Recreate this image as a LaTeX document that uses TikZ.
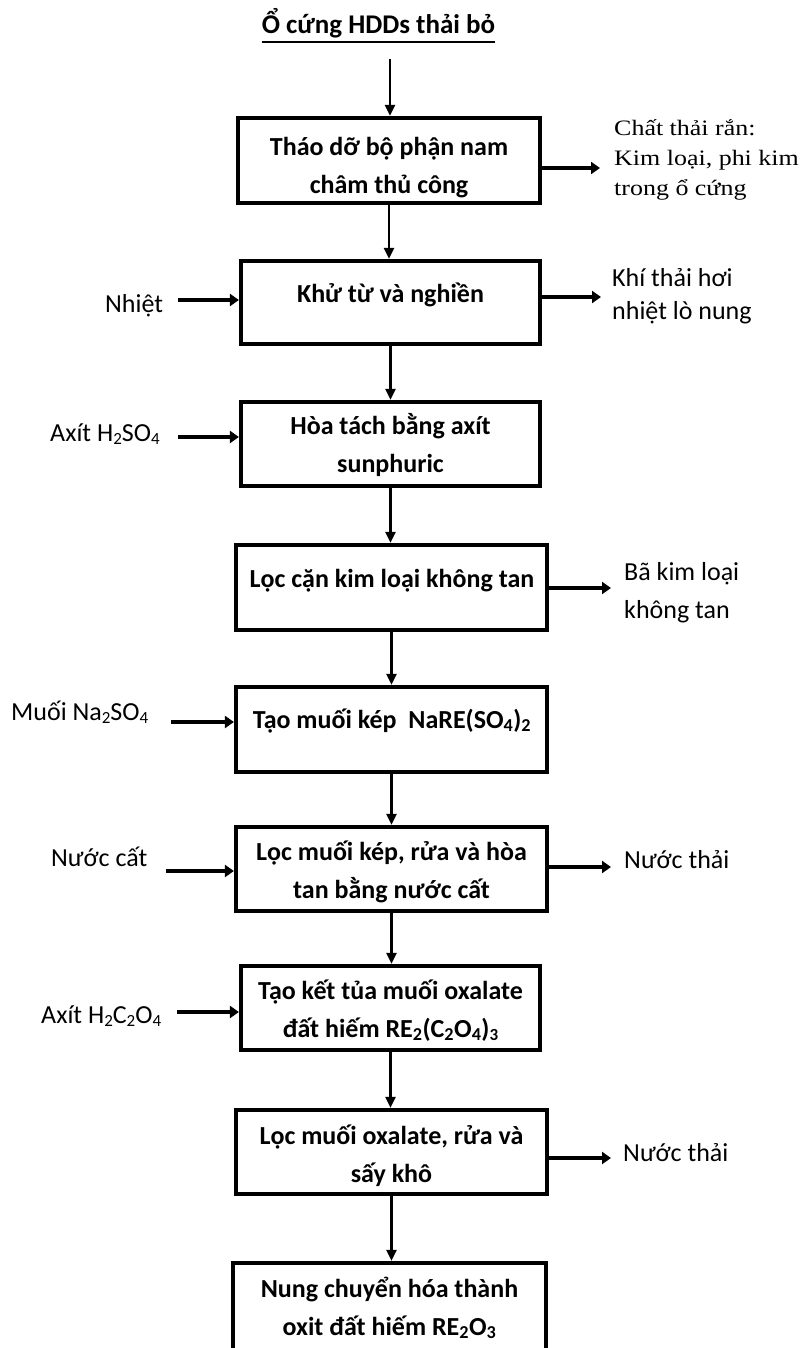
\documentclass[tikz,border=0pt]{standalone}
\usepackage{fontspec}
\setmainfont{Carlito}
\newfontfamily\serifstretch[FakeStretch=1.18]{Liberation Serif}
\usetikzlibrary{arrows.meta}
\newcommand\lsub[1]{\raisebox{-0.12em}{\fontsize{17}{17}\selectfont #1}}
\begin{document}
\begin{tikzpicture}[x=1pt,y=-1pt,
  stepbox/.style={draw, line width=4.2pt, inner sep=0pt},
  boxtext/.style={font=\bfseries\fontsize{26}{38}\selectfont, align=center, inner sep=0pt, anchor=base},
  sidetext/.style={font=\fontsize{26}{34}\selectfont, align=left, inner sep=0pt, anchor=base west},
  flow/.style={line width=2.2pt, -{Triangle[length=11pt,width=10pt]}},
  side/.style={line width=3.2pt, -{Triangle[length=9pt,width=12pt]}}
]
\clip (0,0) rectangle (807,1348);
\fill[white] (0,0) rectangle (807,1348);

% title
\node[font=\bfseries\fontsize{27}{32}\selectfont, inner sep=0pt, anchor=base] (title) at (378.5,34) {Ổ cứng HDDs thải bỏ};
\draw[line width=1.6pt] ([yshift=-8pt]title.base west) -- ([yshift=-8pt]title.base east);

% boxes
\node[stepbox, minimum width=302pt, minimum height=85pt] (b1) at (389,160.5) {};
\node[stepbox, minimum width=299pt, minimum height=83pt] (b2) at (390.5,302.5) {};
\node[stepbox, minimum width=299pt, minimum height=84pt] (b3) at (390.5,444) {};
\node[stepbox, minimum width=311pt, minimum height=85pt] (b4) at (391.5,587.5) {};
\node[stepbox, minimum width=311pt, minimum height=85pt] (b5) at (391.5,729.5) {};
\node[stepbox, minimum width=311pt, minimum height=84pt] (b6) at (391.5,869) {};
\node[stepbox, minimum width=299pt, minimum height=84pt] (b7) at (390.5,1008) {};
\node[stepbox, minimum width=311pt, minimum height=84pt] (b8) at (391.5,1152) {};
\node[stepbox, minimum width=313pt, minimum height=90pt] (b9) at (389.5,1308) {};

% box texts (base anchor = baseline of the last line)
\node[boxtext] (t1) at (389,194) {Tháo dỡ bộ phận nam\\châm thủ công};
\node[boxtext] (t2) at (390.5,302) {Khử từ và nghiền};
\node[boxtext] (t3) at (390.5,472) {Hòa tách bằng axít\\sunphuric};
\node[boxtext] (t4) at (392,587) {Lọc cặn kim loại không tan};
\node[boxtext] (t5) at (392,728) {Tạo muối kép\ \ NaRE(SO\textsubscript{4})\textsubscript{2}};
\node[boxtext] (t6) at (391.5,898) {Lọc muối kép, rửa và hòa\\tan bằng nước cất};
\node[boxtext] (t7) at (390.5,1037) {Tạo kết tủa muối oxalate\\đất hiếm RE\textsubscript{2}(C\textsubscript{2}O\textsubscript{4})\lsub{3}};
\node[boxtext] (t8) at (391.5,1182) {Lọc muối oxalate, rửa và\\sấy khô};
\node[boxtext] (t9) at (389.5,1335) {Nung chuyển hóa thành\\oxit đất hiếm RE\textsubscript{2}O\textsubscript{3}};

% left inputs
\node[sidetext] (l2) at (105,312) {Nhiệt};
\node[sidetext] (l3) at (50,441) {Axít H\lsub{2}SO\lsub{4}};
\node[sidetext] (l5) at (11,720) {Muối Na\lsub{2}SO\lsub{4}};
\node[sidetext] (l6) at (51,866) {Nước cất};
\node[sidetext] (l7) at (41,1023) {Axít H\lsub{2}C\lsub{2}O\lsub{4}};

\coordinate (i2) at (178,300);
\coordinate (i3) at (178,437);
\coordinate (i5) at (171,722);
\coordinate (i6) at (166,871);
\coordinate (i7) at (177,1012);
\draw[side] (i2) -- (i2 -| b2.west);
\draw[side] (i3) -- (i3 -| b3.west);
\draw[side] (i5) -- (i5 -| b5.west);
\draw[side] (i6) -- (i6 -| b6.west);
\draw[side] (i7) -- (i7 -| b7.west);

% right outputs
\node[sidetext, font=\serifstretch\fontsize{22}{30}\selectfont] (r1) at (614,196) {Chất thải rắn:\\Kim loại, phi kim\\trong ổ cứng};
\node[sidetext, font=\fontsize{26}{33}\selectfont] (r2) at (612,319) {Khí thải hơi\\nhiệt lò nung};
\node[sidetext, font=\fontsize{26}{38}\selectfont] (r4) at (624,618) {Bã kim loại\\không tan};
\node[sidetext] (r6) at (624,868) {Nước thải};
\node[sidetext] (r8) at (623,1161) {Nước thải};

\coordinate (o1) at (600,168);
\coordinate (o2) at (601,297);
\coordinate (o4) at (611,588);
\coordinate (o6) at (611,867);
\coordinate (o8) at (611,1158);
\draw[side] (o1 -| b1.east) -- (o1);
\draw[side] (o2 -| b2.east) -- (o2);
\draw[side] (o4 -| b4.east) -- (o4);
\draw[side] (o6 -| b6.east) -- (o6);
\draw[side] (o8 -| b8.east) -- (o8);

% main flow
\coordinate (top) at (390,59);
\draw[flow] (top) -- (top |- b1.north);
\draw[flow] (b1.south) -- (b1.south |- b2.north);
\draw[flow] (b2.south) -- (b2.south |- b3.north);
\draw[flow] (b3.south) -- (b3.south |- b4.north);
\draw[flow] (b4.south) -- (b4.south |- b5.north);
\draw[flow] (b5.south) -- (b5.south |- b6.north);
\draw[flow] (b6.south) -- (b6.south |- b7.north);
\draw[flow] (b7.south) -- (b7.south |- b8.north);
\draw[flow] (b8.south) -- (b8.south |- b9.north);
\end{tikzpicture}
\end{document}
